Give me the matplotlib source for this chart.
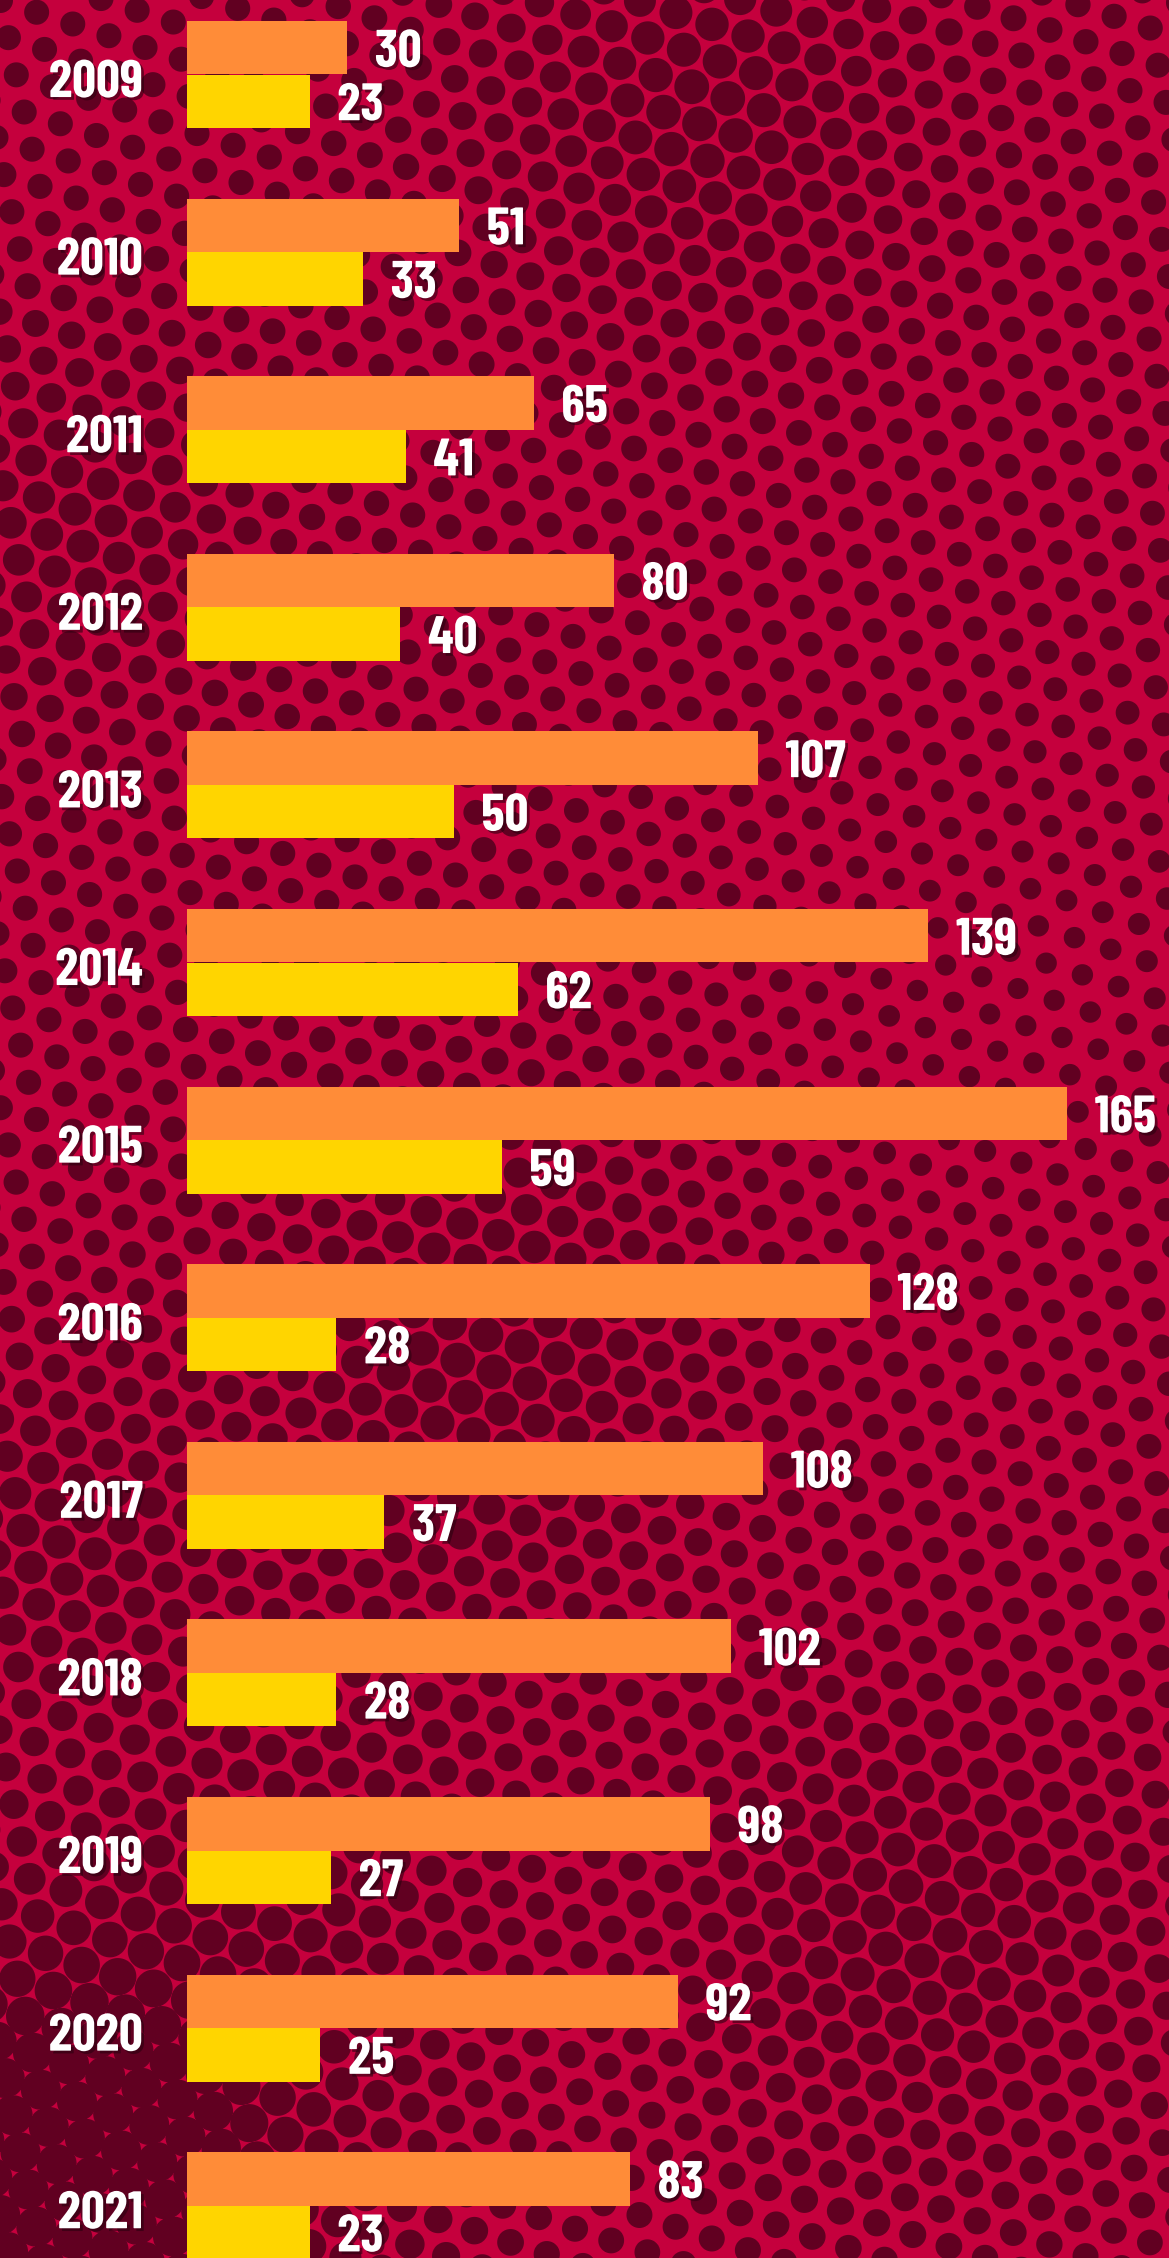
import numpy as np
import matplotlib
matplotlib.use("Agg")
import matplotlib.pyplot as plt
import matplotlib.patheffects as pe
from matplotlib import font_manager

# bar values
years = ["2009", "2010", "2011", "2012", "2013", "2014", "2015",
         "2016", "2017", "2018", "2019", "2020", "2021"]
orange_vals = [30, 51, 65, 80, 107, 139, 165, 128, 108, 102, 98, 92, 83]
yellow_vals = [23, 33, 41, 40, 50, 62, 59, 28, 37, 28, 27, 25, 23]

# pick a condensed bold face if one is installed
installed = {f.name for f in font_manager.fontManager.ttflist}
font = "DejaVu Sans"
for cand in ["Barlow Condensed", "Roboto Condensed", "Saira Condensed",
             "Archivo Narrow", "Encode Sans Condensed", "Oswald", "Liberation Sans Narrow"]:
    if cand in installed:
        font = cand
        break

W, H = 1169, 2258
DPI = 100
fig = plt.figure(figsize=(W / DPI, H / DPI), dpi=DPI)
ax = fig.add_axes([0, 0, 1, 1])

# ---- halftone background (decoration only) ----
yy, xx = np.mgrid[0:H, 0:W].astype(float)
s = 38.0
th = np.deg2rad(18)
u = xx * np.cos(th) + yy * np.sin(th)
v = -xx * np.sin(th) + yy * np.cos(th)
h = s * np.sqrt(3)

def near(u, v):
    du = u - np.round(u / s) * s
    dv = v - np.round(v / h) * h
    return np.hypot(du, dv)

d = np.minimum(near(u, v), near(u - s / 2, v - h / 2))

R = np.full((H, W), 12.5)
blobs = [(700, 110, 5, 150), (80, 520, 4, 120), (480, 1360, 5, 170),
         (920, 1930, 5, 170), (60, 2200, 10, 200), (40, 1540, 4, 120),
         (300, 1860, 3, 150), (1000, 1000, -2, 200)]
for bx, by, amp, sig in blobs:
    R += amp * np.exp(-((xx - bx) ** 2 + (yy - by) ** 2) / (2 * sig ** 2))
R = np.minimum(R, 20.0)

a = np.clip(R - d + 0.5, 0, 1)[..., None]
bg = np.array([198, 0, 62]) / 255
dot = np.array([98, 0, 34]) / 255
img = bg * (1 - a) + dot * a

# axis scale: x pixel = 187 + 5.333*value, row i centred at 74.5 + 177.6*i
k = 5.333
x0 = -187 / k
x1 = (W - 187) / k
y0 = -74.5 / 177.6
y1 = (H - 74.5) / 177.6
ax.imshow(img, extent=[x0, x1, y1, y0], aspect="auto", zorder=0)
ax.set_xlim(x0, x1)
ax.set_ylim(y1, y0)
ax.axis("off")

pos = np.arange(len(years))
bh = 0.301
ax.barh(pos - bh / 2, orange_vals, height=bh, color="#FF8C38", zorder=2)
ax.barh(pos + bh / 2, yellow_vals, height=bh, color="#FFD500", zorder=2)

fam = [font, "DejaVu Sans"]
fs = 38
shadow = [pe.withSimplePatchShadow(offset=(2, -2), shadow_rgbFace="#2a0010", alpha=0.6)]

for i in range(len(years)):
    ax.text(orange_vals[i] + 5.2, pos[i] - bh / 2, str(orange_vals[i]),
            ha="left", va="center_baseline", color="white", fontsize=fs,
            fontweight="bold", family=fam, path_effects=shadow, zorder=3)
    ax.text(yellow_vals[i] + 5.2, pos[i] + bh / 2, str(yellow_vals[i]),
            ha="left", va="center_baseline", color="white", fontsize=fs,
            fontweight="bold", family=fam, path_effects=shadow, zorder=3)
    ax.text(-8.25, pos[i] + 0.02, years[i], ha="right", va="center_baseline",
            color="white", fontsize=fs, fontweight="bold", family=fam,
            path_effects=shadow, zorder=3)

fig.savefig("out.png", dpi=DPI)
